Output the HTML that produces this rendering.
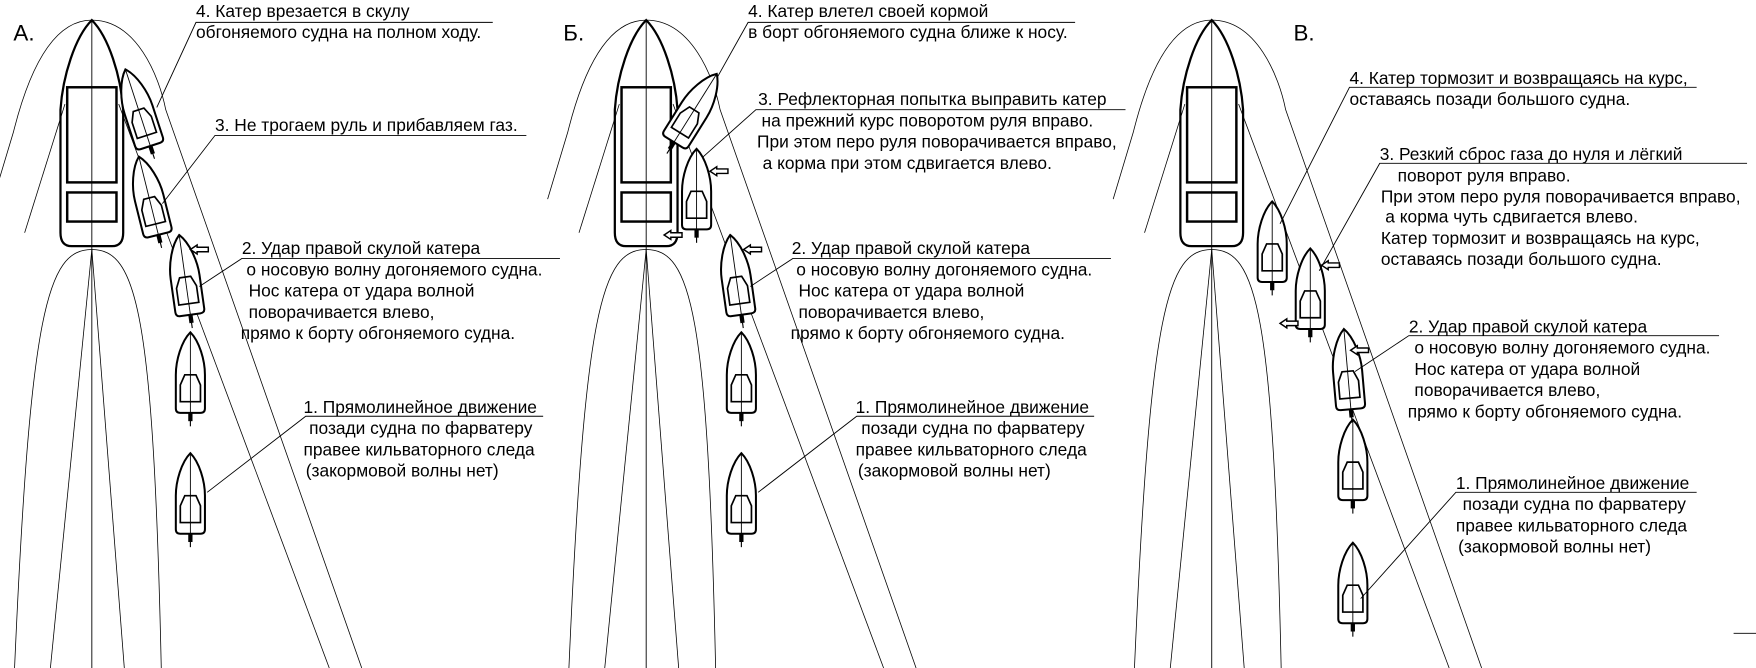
<!DOCTYPE html>
<html><head><meta charset="utf-8"><style>
html,body{margin:0;padding:0;background:#fff;}
svg{display:block;}
text{font-family:"Liberation Sans",sans-serif;font-size:15.5px;fill:#000;}
</style></head><body>
<svg width="1756" height="668" viewBox="0 0 1568 597" preserveAspectRatio="none" xmlns="http://www.w3.org/2000/svg">
<defs>
<g id="ship" fill="none" stroke="#000">
  <path d="M0,0 C-15,15 -26,50 -28,80 L-28,190 Q-28,202 -18,202 L18,202 Q28,202 28,190 L28,80 C26,50 15,15 0,0Z" stroke-width="2"/>
  <rect x="-22" y="60" width="44" height="85" stroke-width="2.2"/>
  <rect x="-22" y="154" width="44" height="26" stroke-width="2.2"/>
  <path d="M0,0 L0,579" stroke-width="0.8"/>
  <path d="M0,0 C40,0 60,50 66,80 L241,579" stroke-width="0.7"/>
  <path d="M0,0 C-40,0 -60,60 -70,100 L-88,160" stroke-width="0.7"/>
  <path d="M24,75 L212,579" stroke-width="0.7"/>
  <path d="M-24,75 L-60,190" stroke-width="0.7"/>
  <path d="M0,205 C-40,205 -55,260 -69,579" stroke-width="0.7"/>
  <path d="M0,205 C40,205 55,260 62,579" stroke-width="0.7"/>
  <path d="M0,205 L-37,579" stroke-width="0.7"/>
  <path d="M0,205 L29,579" stroke-width="0.7"/>
</g>
<g id="boat" fill="none" stroke="#000">
  <path d="M0,0 C-8,8 -13,25 -13,38 L-13,68 Q-13,72 -9,72 L9,72 Q13,72 13,68 L13,38 C13,25 8,8 0,0Z" stroke-width="1.8" fill="#fff"/>
  <path d="M-5,38 L5,38 L9,47 L9,62 L-9,62 L-9,47Z" stroke-width="1.5"/>
  <path d="M0,0 L0,72" stroke-width="0.8"/>
  <rect x="-1.5" y="72" width="3" height="7" fill="#000" stroke-width="0.8"/>
  <path d="M0,79 L0,84" stroke-width="1"/>
</g>
<g id="arr" fill="#fff" stroke="#000" stroke-width="1.3">
  <path d="M0,0 L6,-4 L6,-2 L16,-2 L16,2 L6,2 L6,4Z"/>
</g>
</defs>

<!-- Panel A -->
<use href="#ship" x="82" y="18"/>
<use href="#boat" transform="translate(170,405)"/>
<use href="#boat" transform="translate(170,297)"/>
<use href="#boat" transform="translate(160,210) rotate(-8)"/>
<use href="#boat" transform="translate(124,140) rotate(-14)"/>
<use href="#boat" transform="translate(112,62) rotate(-18)"/>
<use href="#arr" x="170" y="223"/>
<g stroke="#000" stroke-width="0.8" fill="none">
<path d="M185,440 L273,372 L485,372"/>
<path d="M178,256 L216,231 L500,231"/>
<path d="M145,182 L192,121 L470,121"/>
<path d="M140,96 L175,20 L440,20"/>
</g>
<text x="12" y="36" style="font-size:20px">А.</text>
<text x="175" y="15">4. Катер врезается в скулу</text>
<text x="175" y="34">обгоняемого судна на полном ходу.</text>
<text x="192" y="117">3. Не трогаем руль и прибавляем газ.</text>
<text x="216" y="227">2. Удар правой скулой катера</text>
<text x="220" y="246">о носовую волну догоняемого судна.</text>
<text x="222" y="265">Нос катера от удара волной</text>
<text x="222" y="284">поворачивается влево,</text>
<text x="215" y="303">прямо к борту обгоняемого судна.</text>
<text x="271" y="369">1. Прямолинейное движение</text>
<text x="276" y="388">позади судна по фарватеру</text>
<text x="271" y="407">правее кильваторного следа</text>
<text x="273" y="426">(закормовой волны нет)</text>

<!-- Panel Б -->
<use href="#ship" x="577" y="18"/>
<use href="#boat" transform="translate(662,405)"/>
<use href="#boat" transform="translate(662,297)"/>
<use href="#boat" transform="translate(652,210) rotate(-8)"/>
<use href="#boat" transform="translate(622,133)"/>
<use href="#boat" transform="translate(640,66) rotate(32)"/>
<use href="#arr" x="634" y="153"/>
<use href="#arr" x="593" y="210"/>
<use href="#arr" x="664" y="223"/>
<g stroke="#000" stroke-width="0.8" fill="none">
<path d="M677,440 L765,372 L977,372"/>
<path d="M670,256 L708,231 L992,231"/>
<path d="M628,140 L675,98 L1005,98"/>
<path d="M640,70 L668,20 L960,20"/>
</g>
<text x="503" y="36" style="font-size:20px">Б.</text>
<text x="668" y="15">4. Катер влетел своей кормой</text>
<text x="668" y="34">в борт обгоняемого судна ближе к носу.</text>
<text x="677" y="94">3. Рефлекторная попытка выправить  катер</text>
<text x="680" y="113">на прежний  курс поворотом руля вправо.</text>
<text x="676" y="132">При этом перо руля поворачивается вправо,</text>
<text x="681" y="151">а корма при этом сдвигается влево.</text>
<text x="707" y="227">2. Удар правой скулой катера</text>
<text x="711" y="246">о носовую волну догоняемого судна.</text>
<text x="713" y="265">Нос катера от удара волной</text>
<text x="713" y="284">поворачивается влево,</text>
<text x="706" y="303">прямо к борту обгоняемого судна.</text>
<text x="764" y="369">1. Прямолинейное движение</text>
<text x="769" y="388">позади судна по фарватеру</text>
<text x="764" y="407">правее кильваторного следа</text>
<text x="766" y="426">(закормовой волны нет)</text>

<!-- Panel В -->
<use href="#ship" x="1082" y="18"/>
<use href="#boat" transform="translate(1208,485)"/>
<use href="#boat" transform="translate(1208,375)"/>
<use href="#boat" transform="translate(1200,294) rotate(-5)"/>
<use href="#boat" transform="translate(1170,222)"/>
<use href="#boat" transform="translate(1136,180)"/>
<use href="#arr" x="1180" y="237"/>
<use href="#arr" x="1143" y="289"/>
<use href="#arr" x="1206" y="313"/>
<g stroke="#000" stroke-width="0.8" fill="none">
<path d="M1215,535 L1300,440 L1515,440"/>
<path d="M1210,332 L1258,300 L1535,300"/>
<path d="M1178,242 L1232,146 L1560,146"/>
<path d="M1143,200 L1205,78 L1515,78"/>
<path d="M1548,566 L1568,566"/>
</g>
<text x="1155" y="36" style="font-size:20px">В.</text>
<text x="1205" y="75">4. Катер тормозит и возвращаясь на курс,</text>
<text x="1205" y="94">оставаясь позади  большого судна.</text>
<text x="1232" y="143">3. Резкий сброс газа до нуля и лёгкий</text>
<text x="1248" y="162">поворот руля вправо.</text>
<text x="1233" y="181">При этом перо руля поворачивается вправо,</text>
<text x="1237" y="199">а корма чуть сдвигается влево.</text>
<text x="1233" y="218">Катер тормозит и возвращаясь на курс,</text>
<text x="1233" y="237">оставаясь позади  большого судна.</text>
<text x="1258" y="297">2. Удар правой скулой катера</text>
<text x="1263" y="316">о носовую волну догоняемого судна.</text>
<text x="1263" y="335">Нос катера от удара волной</text>
<text x="1263" y="354">поворачивается влево,</text>
<text x="1257" y="373">прямо к борту обгоняемого судна.</text>
<text x="1300" y="437">1. Прямолинейное движение</text>
<text x="1306" y="456">позади судна по фарватеру</text>
<text x="1300" y="475">правее кильваторного следа</text>
<text x="1302" y="494">(закормовой волны нет)</text>
</svg>
</body></html>
